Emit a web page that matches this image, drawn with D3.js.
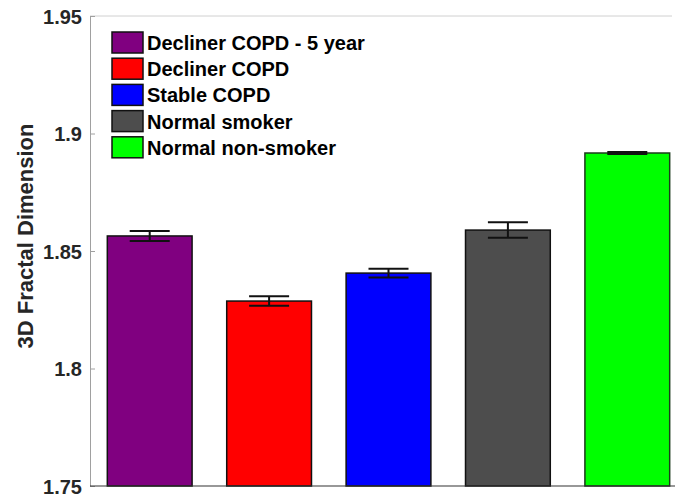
<!DOCTYPE html>
<html>
<meta charset="utf-8">
<body style="margin:0;background:#fff">
<div id="chart"></div>
<script src="https://d3js.org/d3.v7.min.js"></script>
<script>
  // groups, bar heights and standard errors
  var groups = ["Decliner COPD - 5 year", "Decliner COPD", "Stable COPD", "Normal smoker", "Normal non-smoker"];
  var means = [1.8564, 1.8287, 1.8406, 1.8589, 1.8917];
  var errs = [0.0021, 0.0020, 0.0019, 0.0033, 0.0004];
  var colors = ["#800080", "#ff0000", "#0000ff", "#4d4d4d", "#00ff00"];
  var yTicks = [1.75, 1.8, 1.85, 1.9, 1.95];

  var W = 675, H = 499;
  var pLeft = 90, pTop = 16, pBottom = 486, pRight = 672;

  var svg = d3.select("#chart").append("svg")
      .attr("width", W).attr("height", H)
      .style("font-family", "'Liberation Sans', Arial, sans-serif");

  var y = d3.scaleLinear().domain([1.75, 1.95]).range([pBottom, pTop]);
  // bars are spaced like a MATLAB bar plot, the right side is cut off
  var x = d3.scaleBand().domain(groups)
      .range([pLeft, pLeft + 5 * 119.4])
      .paddingInner(0.29).paddingOuter(0.145);

  // top frame line
  svg.append("line")
      .attr("x1", pLeft).attr("x2", pRight).attr("y1", pTop).attr("y2", pTop)
      .attr("stroke", "#d0d0d0").attr("stroke-width", 1);

  // bars
  svg.selectAll("rect.bar")
    .data(groups)
    .enter()
    .append("rect")
      .attr("class", "bar")
      .attr("x", function (d) { return x(d); })
      .attr("y", function (d, i) { return y(means[i]); })
      .attr("width", x.bandwidth())
      .attr("height", function (d, i) { return pBottom - y(means[i]); })
      .attr("fill", function (d, i) { return colors[i]; })
      .attr("stroke", function (d, i) { return i === 4 ? "#1c3a1c" : "#111"; })
      .attr("stroke-width", 1.5);

  // error bars
  var capW = 40;
  var eb = svg.selectAll("g.err")
    .data(groups)
    .enter()
    .append("g")
      .attr("class", "err")
      .attr("stroke", "#111")
      .attr("stroke-width", 2);
  eb.append("line")
      .attr("x1", function (d) { return x(d) + x.bandwidth() / 2; })
      .attr("x2", function (d) { return x(d) + x.bandwidth() / 2; })
      .attr("y1", function (d, i) { return y(means[i] - errs[i]); })
      .attr("y2", function (d, i) { return y(means[i] + errs[i]); });
  eb.append("line")
      .attr("x1", function (d) { return x(d) + x.bandwidth() / 2 - capW / 2; })
      .attr("x2", function (d) { return x(d) + x.bandwidth() / 2 + capW / 2; })
      .attr("y1", function (d, i) { return y(means[i] + errs[i]); })
      .attr("y2", function (d, i) { return y(means[i] + errs[i]); });
  eb.append("line")
      .attr("x1", function (d) { return x(d) + x.bandwidth() / 2 - capW / 2; })
      .attr("x2", function (d) { return x(d) + x.bandwidth() / 2 + capW / 2; })
      .attr("y1", function (d, i) { return y(means[i] - errs[i]); })
      .attr("y2", function (d, i) { return y(means[i] - errs[i]); });

  // y axis
  var yAxis = svg.append("g")
      .attr("transform", "translate(" + pLeft + ",0)")
      .call(d3.axisLeft(y).tickValues(yTicks).tickSizeInner(-5).tickSizeOuter(0).tickPadding(8)
        .tickFormat(function (d) { return String(d); }));
  yAxis.select(".domain").attr("stroke", "#a0a0a0");
  yAxis.selectAll(".tick line").attr("stroke", "#a0a0a0");
  yAxis.selectAll(".tick text")
      .style("font-size", "20px")
      .style("font-weight", "bold")
      .attr("fill", "#262626")
      .attr("dy", "0.36em");

  // bottom axis line
  svg.append("line")
      .attr("x1", pLeft).attr("x2", W).attr("y1", pBottom).attr("y2", pBottom)
      .attr("stroke", "#333").attr("stroke-width", 1.2);

  // y axis title
  svg.append("text")
      .attr("transform", "translate(33,236) rotate(-90)")
      .attr("text-anchor", "middle")
      .style("font-size", "22px")
      .style("font-weight", "bold")
      .attr("fill", "#262626")
      .text("3D Fractal Dimension");

  // legend
  var lg = svg.selectAll("g.leg")
    .data(groups)
    .enter()
    .append("g")
      .attr("class", "leg")
      .attr("transform", function (d, i) { return "translate(112," + (32 + i * 26.2) + ")"; });
  lg.append("rect")
      .attr("width", 31).attr("height", 21)
      .attr("fill", function (d, i) { return colors[i]; })
      .attr("stroke", "#111").attr("stroke-width", 1.5);
  lg.append("text")
      .attr("x", 35).attr("y", 18)
      .style("font-size", "20px")
      .style("font-weight", "bold")
      .attr("fill", "#000")
      .text(function (d) { return d; });
</script>
</body>
</html>
